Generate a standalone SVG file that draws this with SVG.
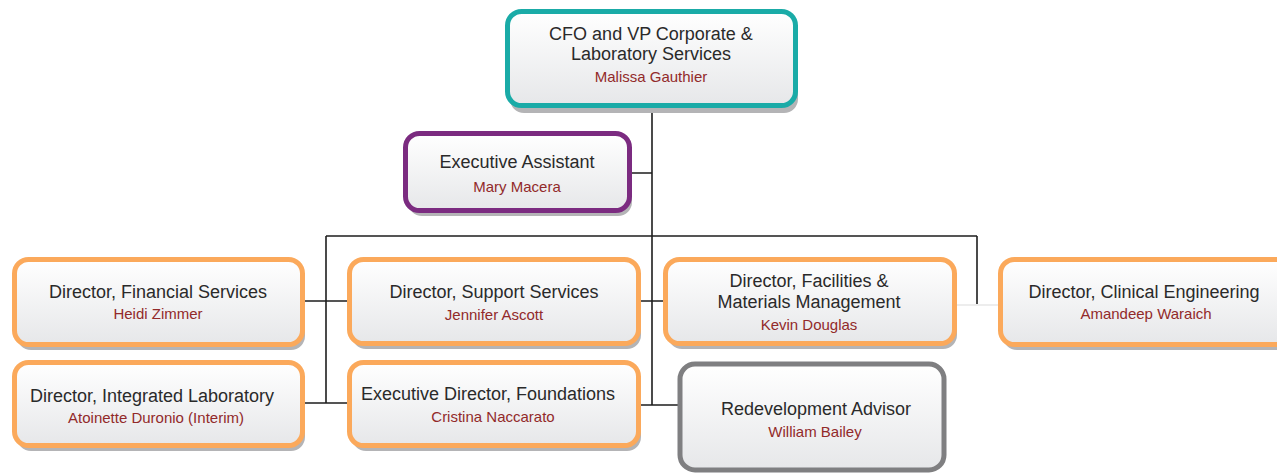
<svg xmlns="http://www.w3.org/2000/svg" width="1277" height="474" viewBox="0 0 1277 474">
<style>
.box{fill:url(#g);stroke-width:5}
.sh{fill:#b4b4b6}
.o{stroke:#fba95b}
.t{font-family:"Liberation Sans",Arial,sans-serif;font-size:18px;fill:#2a2a2a;text-anchor:middle}
.n{font-family:"Liberation Sans",Arial,sans-serif;font-size:15px;fill:#922a2a;text-anchor:middle}
.c{stroke:#1e1e1e;stroke-width:1.6;fill:none}
</style>
<defs>
<linearGradient id="g" x1="0" y1="0" x2="0" y2="1">
<stop offset="0" stop-color="#ffffff"/>
<stop offset="1" stop-color="#e6e7e9"/>
</linearGradient>
</defs>
<rect width="1277" height="474" fill="#ffffff"/>
<g id="connectors">
<path class="c" d="M652 108V405M632 173H652M326 236H977M326 236V403M305 301H347M305 403H347M641 301H665M641 405H680M977 236V304"/>
<path d="M957 305H1000" stroke="#dcdcdc" stroke-width="1.2"/>
</g>
<g id="cfo">
<rect class="sh" x="510" y="16" width="288" height="97" rx="14"/>
<rect class="box" x="507.5" y="11.5" width="288" height="94" rx="14" stroke="#1aaba7"/>
<text class="t" x="651" y="40">CFO and VP Corporate &amp;</text>
<text class="t" x="651" y="60">Laboratory Services</text>
<text class="n" x="651" y="82">Malissa Gauthier</text>
</g>
<g id="exec-assistant">
<rect class="sh" x="408" y="138" width="224" height="78" rx="14"/>
<rect class="box" x="405.5" y="133.5" width="224" height="77" rx="14" stroke="#7b2b80"/>
<text class="t" x="517" y="168">Executive Assistant</text>
<text class="n" x="517" y="192">Mary Macera</text>
</g>
<g id="financial">
<rect class="sh" x="17" y="264" width="288" height="86" rx="14"/>
<rect class="box o" x="14.5" y="259.5" width="288" height="85" rx="14"/>
<text class="t" x="158" y="298">Director, Financial Services</text>
<text class="n" x="158" y="319">Heidi Zimmer</text>
</g>
<g id="integrated-lab">
<rect class="sh" x="17" y="367" width="288" height="84" rx="14"/>
<rect class="box o" x="14.5" y="362.5" width="288" height="83" rx="14"/>
<text class="t" x="152" y="402">Director, Integrated Laboratory</text>
<text class="n" x="156" y="423">Atoinette Duronio (Interim)</text>
</g>
<g id="support">
<rect class="sh" x="352" y="264" width="289" height="85" rx="14"/>
<rect class="box o" x="349.5" y="259.5" width="289" height="84" rx="14"/>
<text class="t" x="494" y="298">Director, Support Services</text>
<text class="n" x="494" y="320">Jennifer Ascott</text>
</g>
<g id="foundations">
<rect class="sh" x="352" y="367" width="289" height="84" rx="14"/>
<rect class="box o" x="349.5" y="362.5" width="289" height="83" rx="14"/>
<text class="t" x="488" y="400">Executive Director, Foundations</text>
<text class="n" x="493" y="422">Cristina Naccarato</text>
</g>
<g id="facilities">
<rect class="sh" x="668" y="264" width="289" height="85" rx="14"/>
<rect class="box o" x="665.5" y="259.5" width="289" height="84" rx="14"/>
<text class="t" x="809" y="287">Director, Facilities &amp;</text>
<text class="t" x="809" y="308">Materials Management</text>
<text class="n" x="809" y="330">Kevin Douglas</text>
</g>
<g id="redevelopment">
<rect class="box" x="680" y="364" width="264" height="106" rx="15" stroke="#7f7f81" stroke-width="5.5"/>
<text class="t" x="816" y="415">Redevelopment Advisor</text>
<text class="n" x="815" y="437">William Bailey</text>
</g>
<g id="clinical">
<rect class="sh" x="1003" y="264" width="300" height="86" rx="14"/>
<rect class="box o" x="1000.5" y="259.5" width="300" height="85" rx="14"/>
<text class="t" x="1144" y="298">Director, Clinical Engineering</text>
<text class="n" x="1146" y="319">Amandeep Waraich</text>
</g>
</svg>
